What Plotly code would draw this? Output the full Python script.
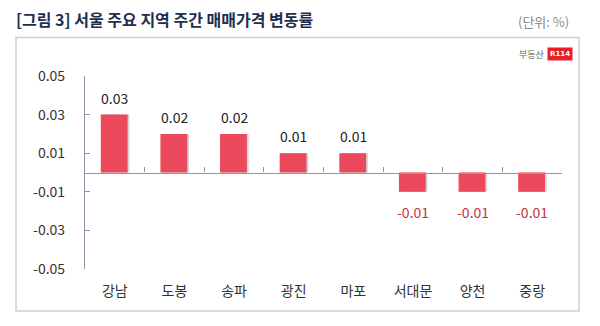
import plotly.graph_objects as go

regions = ["강남", "도봉", "송파", "광진", "마포", "서대문", "양천", "중랑"]
values = [0.03, 0.02, 0.02, 0.01, 0.01, -0.01, -0.01, -0.01]
y_ticks = [0.05, 0.03, 0.01, -0.01, -0.03, -0.05]
y_tick_text = ["0.05", "0.03", "0.01", "-0.01", "-0.03", "-0.05"]

title_text = "[그림 3] 서울 주요 지역 주간 매매가격 변동률"
unit_text = "(단위: %)"

FONT = "Noto Sans CJK KR"
BAR = "#EA4A5B"
NEG_TXT = "#C8323F"
AXIS = "#8C96A8"

fig = go.Figure()

# subtle shadow
fig.add_trace(go.Bar(
    x=regions, y=values, width=0.45, offset=-0.205,
    marker=dict(color="rgba(60,60,80,0.22)", line=dict(width=0)),
    hoverinfo="skip", showlegend=False, xaxis="x", yaxis="y"))
fig.add_trace(go.Bar(
    x=regions, y=values, width=0.45, offset=-0.235,
    marker=dict(color=BAR, line=dict(width=0)),
    showlegend=False, xaxis="x", yaxis="y"))
# invisible trace on the zero-line axis
fig.add_trace(go.Scatter(
    x=regions, y=values, mode="markers", marker=dict(opacity=0),
    hoverinfo="skip", showlegend=False, xaxis="x2", yaxis="y"))

annotations = []
for r, v in zip(regions, values):
    annotations.append(dict(
        x=r, y=v, xref="x", yref="y", text=f"{v:.2f}", showarrow=False,
        yshift=17 if v > 0 else -20,
        font=dict(family=FONT, size=14, color="#222222" if v > 0 else NEG_TXT)))

plot_l, plot_r, plot_t, plot_b = 85, 562, 76, 269
pw, ph = plot_r - plot_l, plot_b - plot_t

def px_x(p):
    return (p - plot_l) / pw

def px_y(p):
    return (plot_b - p) / ph

annotations.append(dict(
    x=px_x(571), xref="paper", xanchor="right", y=px_y(22), yref="paper",
    yanchor="middle", text=unit_text,
    showarrow=False, font=dict(family=FONT, size=13, color="#8a8a8a")))

# logo
annotations.append(dict(
    x=px_x(546), y=px_y(54), xref="paper", yref="paper", xanchor="right",
    yanchor="middle", text="부동산", showarrow=False,
    font=dict(family=FONT, size=9, color="#666666")))
annotations.append(dict(
    x=px_x(559.5), y=px_y(54), xref="paper", yref="paper", xanchor="center",
    yanchor="middle", text="<b>R114</b>", showarrow=False, bgcolor="#E8202A",
    borderpad=2, font=dict(family="DejaVu Sans", size=7, color="white")))

shapes = [dict(
    type="rect", xref="paper", yref="paper",
    x0=px_x(16), x1=px_x(579), y0=px_y(311), y1=px_y(37.5),
    line=dict(color="#CFCFCF", width=1.5), fillcolor="rgba(0,0,0,0)", layer="below")]

fig.update_layout(
    width=600, height=326,
    margin=dict(l=plot_l, r=600 - plot_r, t=plot_t, b=326 - plot_b),
    paper_bgcolor="white", plot_bgcolor="white",
    barmode="overlay",
    title=dict(text=f"<b>{title_text}</b>", x=16 / 600, xanchor="left", xref="container",
               y=1 - 20 / 326, yanchor="middle", yref="container",
               font=dict(family=FONT, size=16, color="#1F2E4E")),
    xaxis=dict(
        type="category", categoryorder="array", categoryarray=regions,
        range=[-0.5, 7.5], showline=False, ticks="", showgrid=False, zeroline=False,
        ticklabelstandoff=12,
        tickfont=dict(family=FONT, size=14, color="#333333")),
    xaxis2=dict(
        type="category", categoryorder="array", categoryarray=regions,
        overlaying="x", anchor="free", position=0.5, side="bottom",
        range=[-0.5, 7.5], showline=True, linecolor=AXIS, linewidth=1.2,
        ticks="inside", tickson="boundaries", ticklen=5, tickcolor=AXIS,
        showticklabels=False, showgrid=False, zeroline=False),
    yaxis=dict(
        range=[-0.05, 0.05], tickvals=y_ticks, ticktext=y_tick_text,
        showline=True, linecolor=AXIS, linewidth=1.2, ticks="inside", ticklen=5,
        tickcolor=AXIS, showgrid=False, zeroline=False, ticklabelstandoff=16,
        tickfont=dict(family=FONT, size=14, color="#333333")),
    annotations=annotations, shapes=shapes,
)

fig.write_html("out.html")
